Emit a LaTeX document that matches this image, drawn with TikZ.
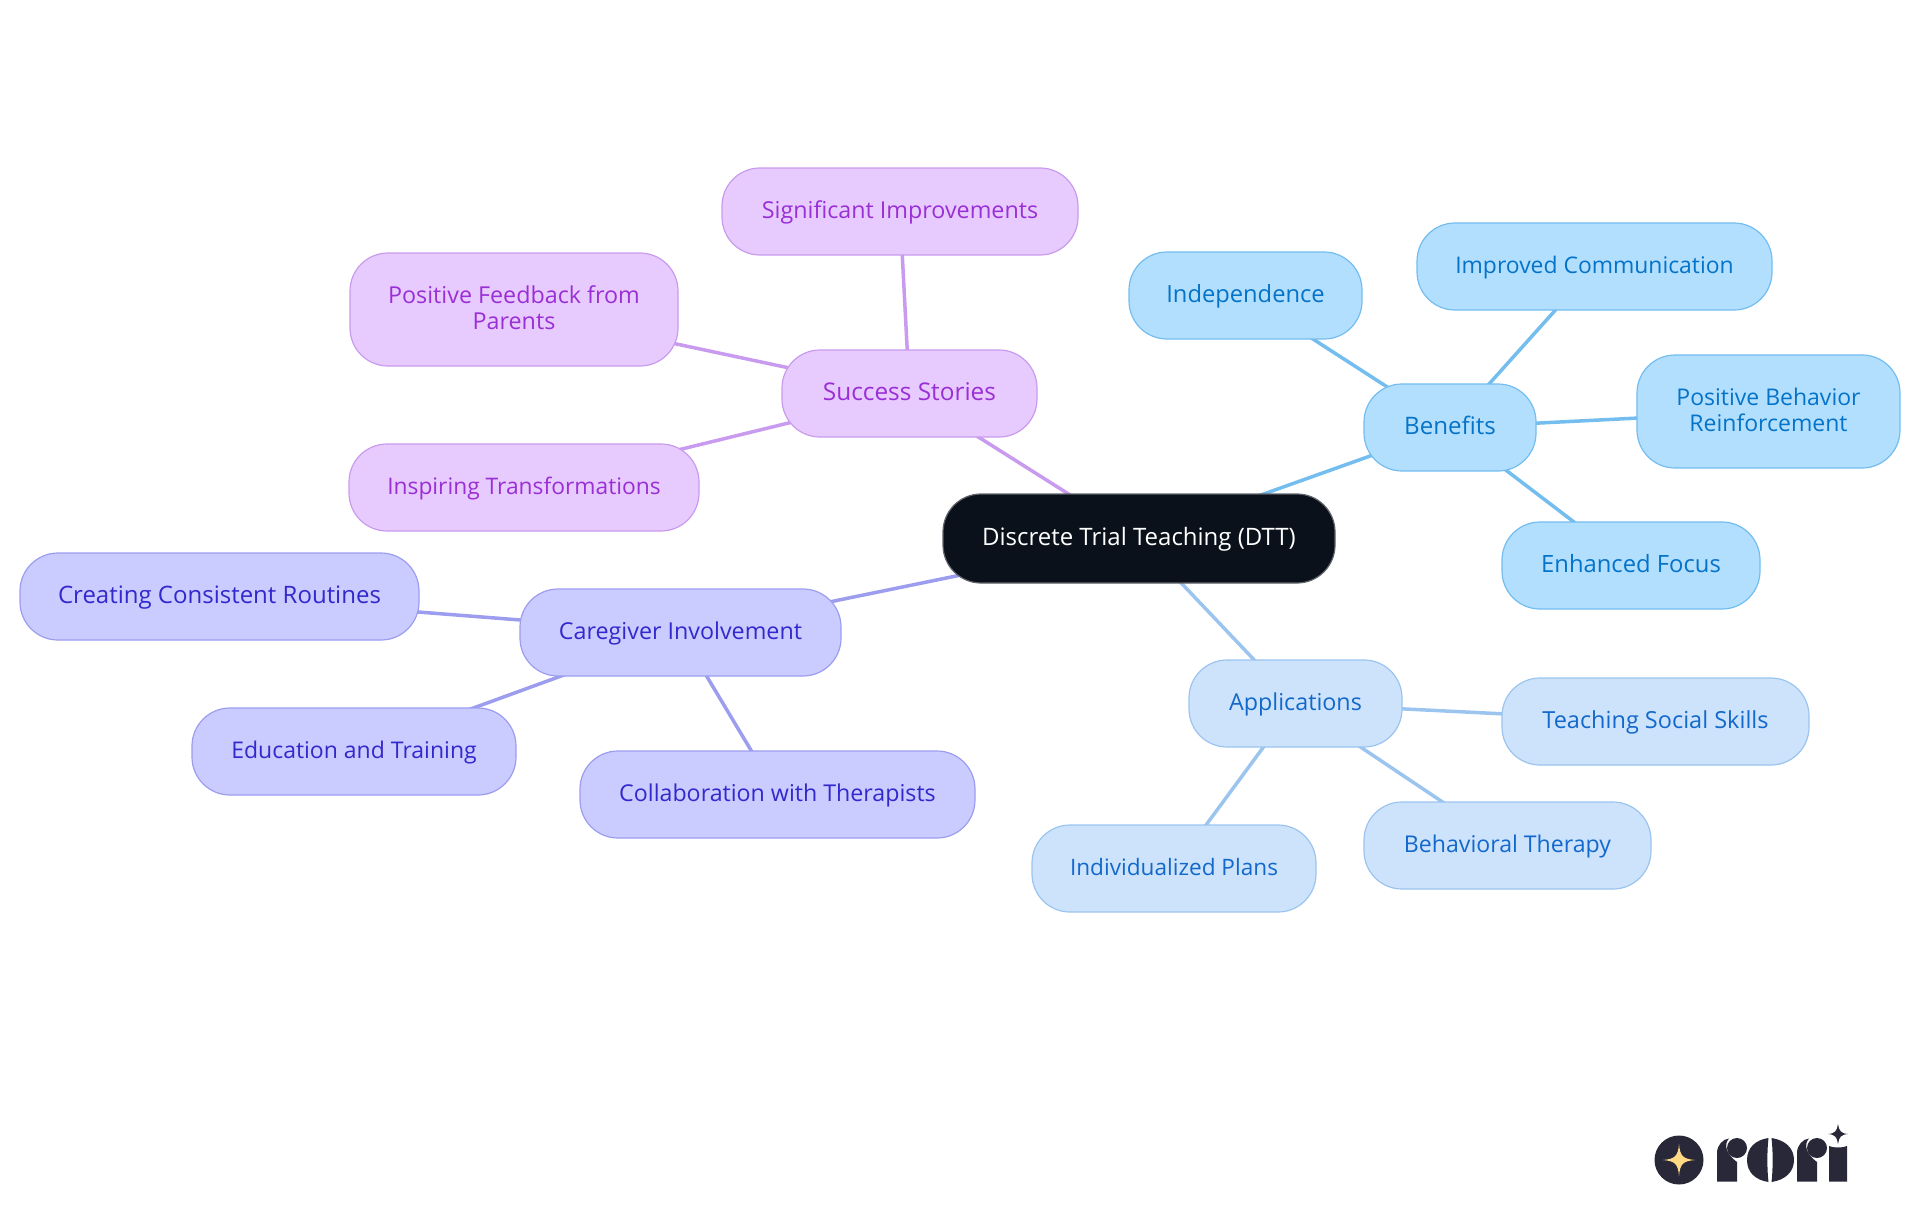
\documentclass[tikz,border=0pt]{standalone}
\usepackage{fontspec}
\setmainfont{Open Sans}
\usetikzlibrary{backgrounds}
\definecolor{purF}{HTML}{E7CBFE}\definecolor{purD}{HTML}{C99BEE}\definecolor{purT}{HTML}{9A2FD5}
\definecolor{indF}{HTML}{CACBFF}\definecolor{indD}{HTML}{9D9DF0}\definecolor{indT}{HTML}{3229CC}
\definecolor{bluF}{HTML}{B3DFFE}\definecolor{bluD}{HTML}{73BDEF}\definecolor{bluT}{HTML}{0473C8}
\definecolor{appF}{HTML}{CDE3FB}\definecolor{appD}{HTML}{9BC4EF}\definecolor{appT}{HTML}{1268CB}
\definecolor{rootF}{HTML}{0B111A}\definecolor{logoD}{HTML}{282838}\definecolor{logoY}{HTML}{FFD983}
\tikzset{
 x=1pt,y=-1pt,
 mm/.style={rectangle,rounded corners=38pt,line width=1.2pt,align=center,inner sep=0pt,text height=19pt,text depth=6pt},
 two/.style={text height=44pt,text depth=4pt},
 fs/.style={font=\fontsize{#1}{26}\selectfont},
 pur/.style={mm,fill=purF,draw=purD,text=purT},
 ind/.style={mm,fill=indF,draw=indD,text=indT},
 blu/.style={mm,fill=bluF,draw=bluD,text=bluT},
 app/.style={mm,fill=appF,draw=appD,text=appT},
 root/.style={mm,fill=rootF,draw=rootF!65!white,text=white},
 edge/.style={line width=3.5pt},
}
\begin{document}
\begin{tikzpicture}
\useasboundingbox (0,0) rectangle (1920,1215);
\node[root,fs=24,minimum width=392pt,minimum height=89pt] (dtt) at (1139,538.5) {Discrete Trial Teaching (DTT)};
\node[pur,fs=24.4,minimum width=255pt,minimum height=87pt] (ss) at (909.5,393.5) {Success Stories};
\node[pur,fs=23.3,minimum width=356pt,minimum height=87pt] (si) at (900,211.5) {Significant Improvements};
\node[pur,two,fs=23.3,minimum width=328pt,minimum height=113pt] (pf) at (514,309.5) {Positive Feedback from\\Parents};
\node[pur,fs=22.8,minimum width=350pt,minimum height=87pt] (it) at (524,487.5) {Inspiring Transformations};
\node[ind,fs=23.3,minimum width=321pt,minimum height=87pt] (ci) at (680.5,632.5) {Caregiver Involvement};
\node[ind,fs=24,minimum width=399pt,minimum height=87pt] (cr) at (219.5,596.5) {Creating Consistent Routines};
\node[ind,fs=23,minimum width=324pt,minimum height=87pt] (et) at (354,751.5) {Education and Training};
\node[ind,fs=23.2,minimum width=395pt,minimum height=87pt] (ct) at (777.5,794.5) {Collaboration with Therapists};
\node[blu,fs=24.1,minimum width=172pt,minimum height=87pt] (be) at (1450,427.5) {Benefits};
\node[blu,fs=23.7,minimum width=233pt,minimum height=87pt] (in) at (1245.5,295.5) {Independence};
\node[blu,fs=22.9,minimum width=355pt,minimum height=87pt] (ic) at (1594.5,266.5) {Improved Communication};
\node[blu,two,fs=23,minimum width=263pt,minimum height=113pt] (pb) at (1768.5,411.5) {Positive Behavior\\Reinforcement};
\node[blu,fs=23.8,minimum width=258pt,minimum height=87pt] (ef) at (1631,565.5) {Enhanced Focus};
\node[app,fs=23.3,minimum width=213pt,minimum height=87pt] (ap) at (1295.5,703.5) {Applications};
\node[app,fs=23.5,minimum width=307pt,minimum height=87pt] (ts) at (1655.5,721.5) {Teaching Social Skills};
\node[app,fs=23.1,minimum width=287pt,minimum height=87pt] (bt) at (1507.5,845.5) {Behavioral Therapy};
\node[app,fs=22.6,minimum width=284pt,minimum height=87pt] (ip) at (1174,868.5) {Individualized Plans};
\begin{pgfonlayer}{background}
\draw[edge,purD] (dtt.center)--(ss.center) (ss.center)--(si.center) (ss.center)--(pf.center) (ss.center)--(it.center);
\draw[edge,indD] (dtt.center)--(ci.center) (ci.center)--(cr.center) (ci.center)--(et.center) (ci.center)--(ct.center);
\draw[edge,bluD] (dtt.center)--(be.center) (be.center)--(in.center) (be.center)--(ic.center) (be.center)--(pb.center) (be.center)--(ef.center);
\draw[edge,appD] (dtt.center)--(ap.center) (ap.center)--(ts.center) (ap.center)--(bt.center) (ap.center)--(ip.center);
\end{pgfonlayer}
% logo
\fill[logoD] (1679,1160) circle (24.5);
\fill[logoY] (1663,1160) .. controls (1675,1159) and (1678,1156) .. (1679,1144) .. controls (1680,1156) and (1683,1159) .. (1695,1160) .. controls (1683,1161) and (1680,1164) .. (1679,1176) .. controls (1678,1164) and (1675,1161) .. (1663,1160) -- cycle;
% r
\fill[logoD] (1717,1181.5) -- (1717,1153) .. controls (1717,1145) and (1723,1139) .. (1729,1138.5) .. controls (1724,1144) and (1725,1153) .. (1737,1162) -- (1737,1181.5) -- cycle;
\fill[logoD] (1737,1148) circle (10);
% o
\fill[logoD] (1768.5,1138) .. controls (1755,1140) and (1747,1148) .. (1747,1160) .. controls (1747,1172) and (1755,1180) .. (1768.5,1182) .. controls (1767,1170) and (1767,1150) .. (1768.5,1138) -- cycle;
\fill[logoD] (1771.5,1138) .. controls (1785,1140) and (1794,1148) .. (1794,1160) .. controls (1794,1172) and (1785,1180) .. (1771.5,1182) .. controls (1773,1170) and (1773,1150) .. (1771.5,1138) -- cycle;
% r
\fill[logoD] (1797,1181.5) -- (1797,1153) .. controls (1797,1145) and (1803,1139) .. (1809,1138.5) .. controls (1804,1144) and (1805,1153) .. (1817,1162) -- (1817,1181.5) -- cycle;
\fill[logoD] (1817,1148) circle (10);
% i
\fill[logoD] (1829,1181.5) -- (1829,1146) .. controls (1833,1148) and (1843,1148) .. (1847,1146) -- (1847,1181.5) -- cycle;
\fill[logoD] (1828,1134) .. controls (1835,1133.5) and (1837,1131) .. (1838,1124) .. controls (1839,1131) and (1841,1133.5) .. (1848,1134) .. controls (1841,1134.5) and (1839,1137) .. (1838,1144) .. controls (1837,1137) and (1835,1134.5) .. (1828,1134) -- cycle;
\end{tikzpicture}
\end{document}
